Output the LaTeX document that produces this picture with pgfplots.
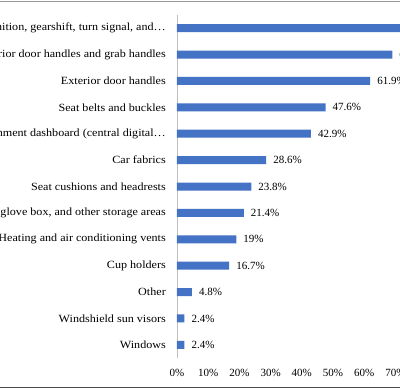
\documentclass[border=0pt]{standalone}
\usepackage{pgfplots}
\pgfplotsset{compat=1.18}
\usepackage{fontspec}
\setmainfont{Liberation Serif}
\newfontfamily\catfont[FakeStretch=1.1]{Liberation Serif}
\definecolor{barblue}{HTML}{4472C4}
\begin{document}
\begin{tikzpicture}[x=1bp,y=1bp]
\useasboundingbox (0,0) rectangle (400,390);
\clip (0,0) rectangle (400,390);
\fill[white] (0,0) rectangle (400,390);
\begin{axis}[
  at={(177bp,32bp)}, anchor=south west,
  scale only axis, width=249.6bp, height=343bp,
  xbar, bar width=8bp,
  xmin=0, xmax=80, ymin=-0.5, ymax=12.5, y dir=reverse,
  ytick={0,...,12},
  yticklabels={{Steering wheel, ignition, gearshift, turn signal, and…},
    {Interior door handles and grab handles},
    {Exterior door handles},
    {Seat belts and buckles},
    {Infotainment dashboard (central digital…},
    {Car fabrics},
    {Seat cushions and headrests},
    {Center console, glove box, and other storage areas},
    {Heating and air conditioning vents},
    {Cup holders},
    {Other},
    {Windshield sun visors},
    {Windows}},
  xtick={0,10,...,80},
  xticklabel={\pgfmathprintnumber{\tick}\%},
  axis lines*=left,
  x axis line style={draw=none},
  y axis line style={draw=black!25, line width=0.75bp},
  major tick length=0pt,
  yticklabel style={font=\catfont\fontsize{11bp}{13bp}\selectfont, inner sep=0pt, xshift=-11bp, anchor=east},
  xticklabel style={font=\fontsize{11bp}{13bp}\selectfont, inner sep=0pt, anchor=north, yshift=-11bp},
  /pgf/number format/assume math mode=true,
  point meta=x,
  nodes near coords={\pgfmathprintnumber[fixed,precision=1]{\pgfplotspointmeta}\%},
  nodes near coords style={font=\fontsize{11bp}{13bp}\selectfont, anchor=west, inner sep=0pt, xshift=7bp, text=black},
]
\addplot[fill=barblue, draw=none] coordinates {(76.2,0) (69,1) (61.9,2) (47.6,3) (42.9,4) (28.6,5) (23.8,6) (21.4,7) (19,8) (16.7,9) (4.8,10) (2.4,11) (2.4,12)};
\end{axis}
\draw[black!40, line width=1.5bp] (0,388.5) -- (400,388.5);
\draw[black!70, line width=1.5bp] (0,2.5) -- (400,2.5);
\end{tikzpicture}
\end{document}
